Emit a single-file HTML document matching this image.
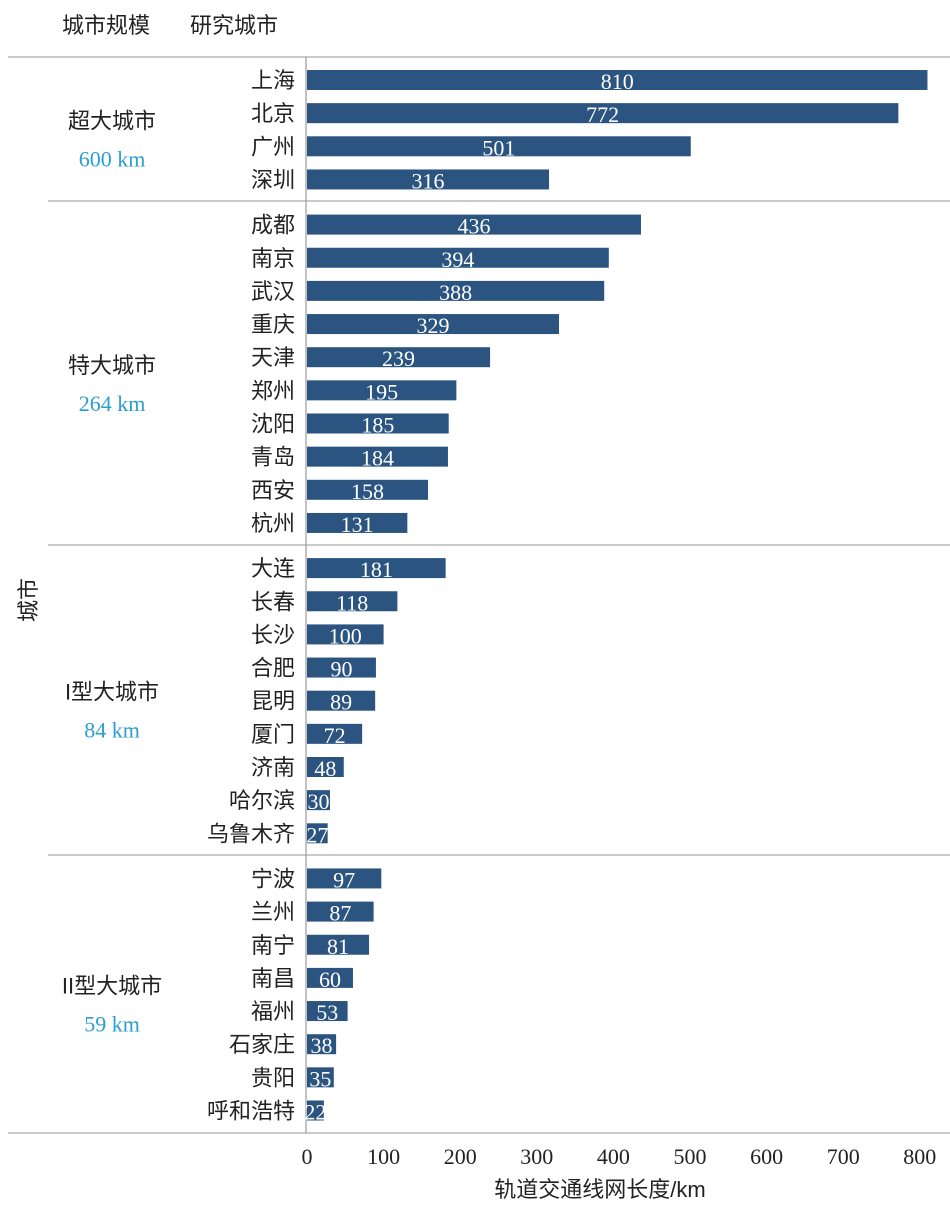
<!DOCTYPE html>
<html><head><meta charset="utf-8"><style>
body{margin:0;background:#fff;}
svg{display:block;}
.cn{font-family:"Liberation Sans","Noto Sans CJK SC",sans-serif;fill:#222;}
.num{font-family:"Liberation Serif","Noto Serif CJK SC",serif;}
</style></head><body>
<svg id="chart" width="950" height="1208" viewBox="0 0 950 1208" xmlns="http://www.w3.org/2000/svg">
<text class="cn" x="62" y="33" font-size="22">城市规模</text>
<text class="cn" x="190" y="33" font-size="22">研究城市</text>
<text class="cn" x="0" y="0" font-size="22" transform="translate(36,600) rotate(-90)" text-anchor="middle">城市</text>
<text class="cn" x="600" y="1197" font-size="22" text-anchor="middle">轨道交通线网长度/km</text>
<g id="g"></g>
</svg>
<script>
const cities=["上海","北京","广州","深圳","成都","南京","武汉","重庆","天津","郑州","沈阳","青岛","西安","杭州","大连","长春","长沙","合肥","昆明","厦门","济南","哈尔滨","乌鲁木齐","宁波","兰州","南宁","南昌","福州","石家庄","贵阳","呼和浩特"];
const values=[810,772,501,316,436,394,388,329,239,195,185,184,158,131,181,118,100,90,89,72,48,30,27,97,87,81,60,53,38,35,22];
const groupOf=[0,0,0,0,1,1,1,1,1,1,1,1,1,1,2,2,2,2,2,2,2,2,2,3,3,3,3,3,3,3,3];
const groupNames=["超大城市","特大城市","I型大城市","II型大城市"];
const groupAvg=["600 km","264 km","84 km","59 km"];
const ticks=[0,100,200,300,400,500,600,700,800];
const NS="http://www.w3.org/2000/svg";
const g=document.getElementById('g');
const x=v=>307+v*0.766;
const y=i=>80+i*33.15+groupOf[i]*12;
function mk(t,a){const e=document.createElementNS(NS,t);for(const k in a)e.setAttribute(k,a[k]);g.appendChild(e);return e;}
// separators
[[57,8],[201,48],[545,48],[855,48],[1133,8]].forEach((s,k)=>{
 const l=mk('line',{x1:s[1],x2:950,y1:s[0],y2:s[0],stroke:'#aaa','stroke-width':1.3});
 
 
});
const ax=mk('line',{x1:306,x2:306,y1:57,y2:1133,stroke:'#999','stroke-width':1.2});


cities.forEach((c,i)=>{
 const cy=y(i);
 const r=mk('rect',{x:x(0),y:cy-10,width:x(values[i])-x(0),height:20,fill:'#2b5580'});
 
 
 const t=mk('text',{x:295,y:cy+8,'font-size':22,'text-anchor':'end',class:'cn'});
 t.textContent=c;
 
 
 const v=mk('text',{x:(x(0)+x(values[i]))/2,y:cy+9,'font-size':22,'text-anchor':'middle',fill:'#fff',class:'num'});
 v.textContent=values[i];
 
 
});
groupNames.forEach((n,k)=>{
 const idx=groupOf.map((gg,i)=>gg===k?i:-1).filter(i=>i>=0);
 const mid=(y(idx[0])+y(idx[idx.length-1]))/2;
 const a=mk('text',{x:112,y:mid-1,'font-size':22,'text-anchor':'middle',class:'cn'});
 a.textContent=n;
 
 
 const b=mk('text',{x:112,y:mid+37,'font-size':22,'text-anchor':'middle',fill:'#2a9fd0',class:'num'});
 b.textContent=groupAvg[k];
 
 
});
ticks.forEach(t=>{
 const e=mk('text',{x:x(t),y:1164,'font-size':22,'text-anchor':'middle',fill:'#222',class:'num'});
 e.textContent=t;
 
 
});
</script>
</body></html>
